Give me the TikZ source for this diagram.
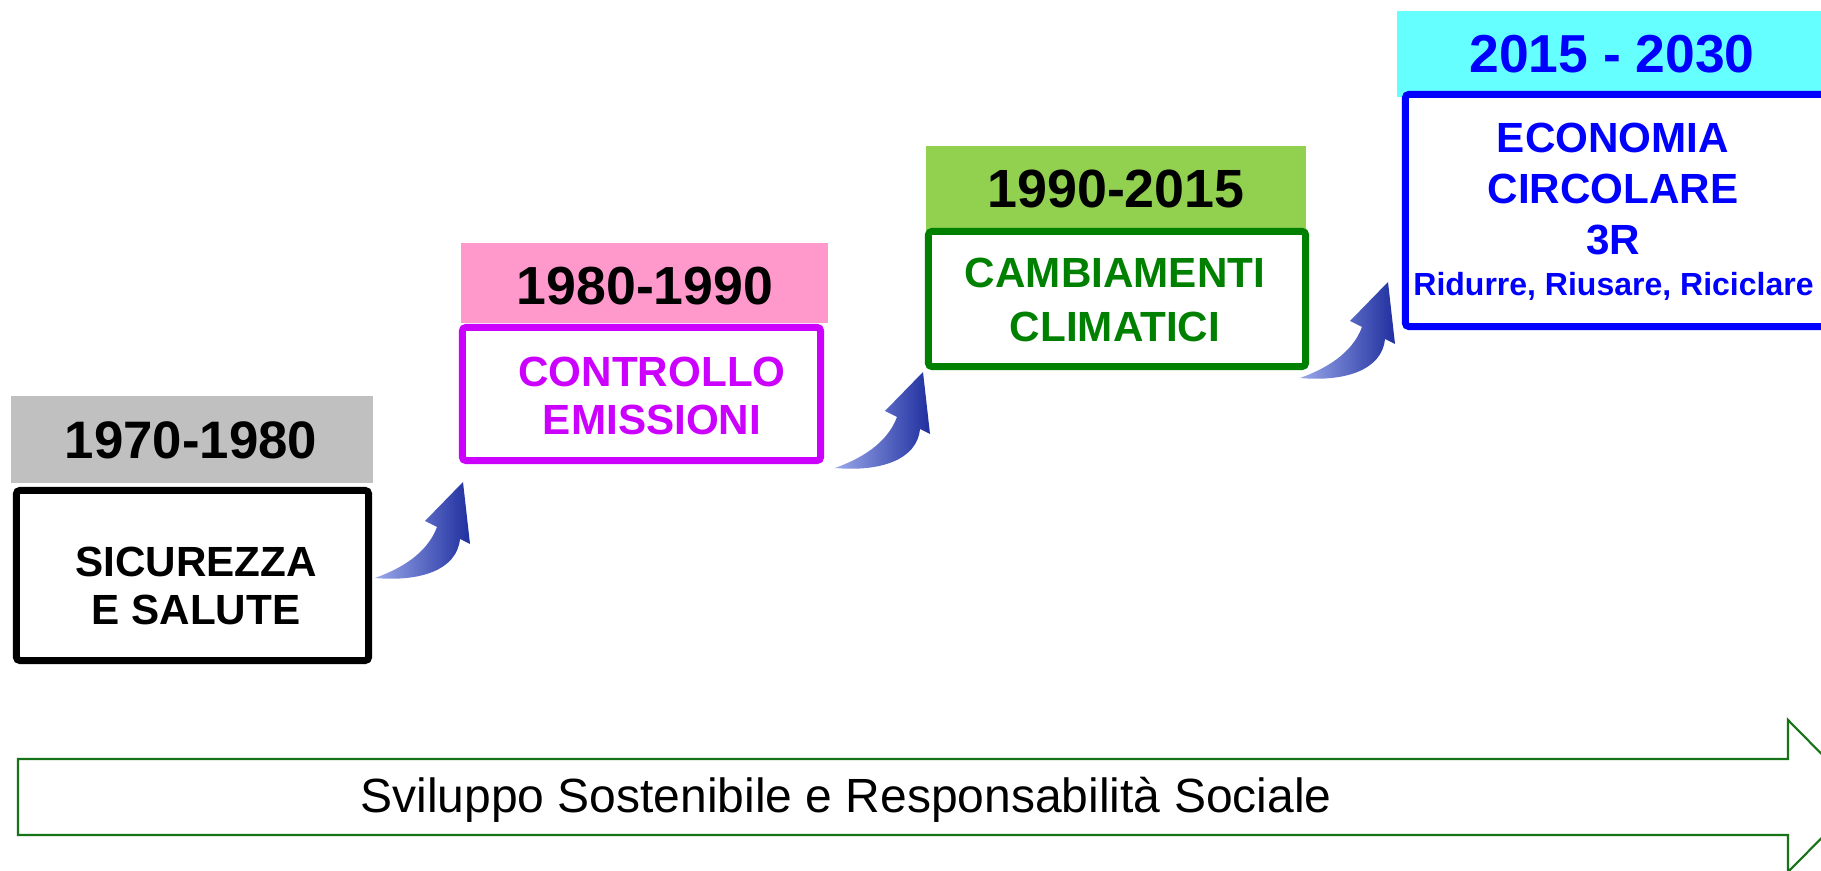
\documentclass[tikz,border=0pt]{standalone}
\usepackage{fontspec}
\setmainfont{Liberation Sans}

\definecolor{hdrgray}{HTML}{C0C0C0}
\definecolor{hdrpink}{HTML}{FF99CC}
\definecolor{hdrgreen}{HTML}{92D050}
\definecolor{hdrcyan}{HTML}{66FFFF}
\definecolor{stagemag}{HTML}{CC00FF}
\definecolor{stagegreen}{HTML}{008000}
\definecolor{stageblue}{HTML}{0000FF}
\definecolor{trackgreen}{HTML}{177317}
\definecolor{arrowlight}{HTML}{9AA8EA}
\definecolor{arrowdark}{HTML}{1F2F9F}

\tikzset{
  yearbar/.style={fill=#1, inner sep=0pt, outer sep=0pt},
  stagebox/.style={draw=#1, fill=white, line width=0.07cm, rounded corners=1pt, inner sep=0pt, outer sep=0pt},
  yeartext/.style={text=#1, font=\bfseries\fontsize{15.25}{18}\selectfont, anchor=base, inner sep=0pt},
  stagetext/.style={text=#1, font=\bfseries\fontsize{12}{13.7}\selectfont, align=center, inner sep=0pt},
  pics/risearrow/.style={code={
    \shade[left color=arrowlight, right color=arrowdark]
      (0,0) .. controls (25,-9) and (52,-24) .. (62,-51) -- (50,-57) -- (88,-96)
      -- (95,-34) -- (85,-39) .. controls (82,-8) and (45,4) .. cycle;
  }}
}

\begin{document}
\begin{tikzpicture}[x=0.01cm, y=-0.01cm]

  \useasboundingbox (0,0) rectangle (1821,871);
  \clip (0,0) rectangle (1821,871);

  % Coloured bars carrying the periods
  \foreach \nm/\cx/\cy/\w/\h/\col in {A/192/439.5/3.62/0.87/hdrgray,
      B/644.5/283/3.67/0.80/hdrpink, C/1116/188/3.80/0.84/hdrgreen,
      D/1618.5/54/4.43/0.86/hdrcyan}
    \node[yearbar=\col, minimum width=\w cm, minimum height=\h cm] (bar\nm) at (\cx,\cy) {};

  % Framed boxes under the bars
  \foreach \nm/\cx/\cy/\w/\h/\col in {A/192.5/575.5/3.52/1.70/black,
      B/641.5/394/3.58/1.33/stagemag, C/1117/299/3.77/1.35/stagegreen,
      D/1626/210.5/4.41/2.32/stageblue}
    \node[stagebox=\col, minimum width=\w cm, minimum height=\h cm] (box\nm) at (\cx,\cy) {};

  % Periods
  \node[yeartext=black, font=\bfseries\fontsize{15}{18}\selectfont] (yrA) at (191,459) {1970-1980};
  \node[yeartext=black] (yrB) at (645,305) {1980-1990};
  \node[yeartext=black, font=\bfseries\fontsize{15.3}{18}\selectfont] (yrC) at (1116,208) {1990-2015};
  \node[yeartext=stageblue, font=\bfseries\fontsize{15.2}{18}\selectfont] (yrD) at (1612,73) {2015 - 2030};

  % Themes
  \node[stagetext=black] (stA) at (196,586) {SICUREZZA\\E SALUTE};
  \node[stagetext=stagemag] (stB) at (652,396) {CONTROLLO\\EMISSIONI};
  \node[stagetext=stagegreen, font=\bfseries\fontsize{12}{15.4}\selectfont] (stC) at (1115,300) {CAMBIAMENTI\\CLIMATICI};
  \node[stagetext=stageblue, font=\bfseries\fontsize{12}{14.5}\selectfont] (stD) at (1613,189) {ECONOMIA\\CIRCOLARE\\3R};
  \node[text=stageblue, font=\bfseries\fontsize{9.1}{11}\selectfont, anchor=base, inner sep=0pt] (subD) at (1613.5,296) {Ridurre, Riusare, Riciclare};

  % Rising arrows between the stages
  \pic (upA) at (375,578) {risearrow};
  \pic (upB) at (835,468) {risearrow};
  \pic (upC) at (1300,378) {risearrow};

  % Long arrow at the bottom
  \draw[trackgreen, line width=0.6pt, fill=white]
    (18,759) -- (1788,759) -- (1788,720) -- (1863,796) -- (1788,872) -- (1788,835) -- (18,835) -- cycle;
  \node[font=\fontsize{13.65}{16}\selectfont, anchor=base, inner sep=0pt] (track) at (846,813)
    {Sviluppo Sostenibile e Responsabilità Sociale};

\end{tikzpicture}
\end{document}
